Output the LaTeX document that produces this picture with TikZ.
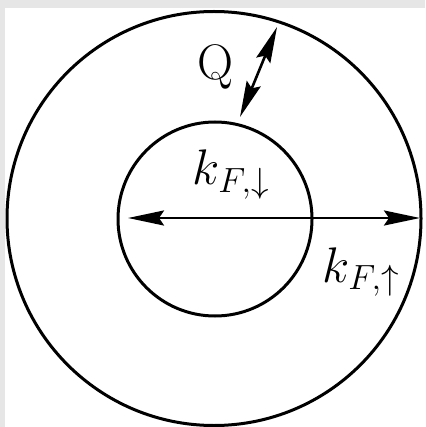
\RequirePackage{fix-cm}
\documentclass[tikz,border=0pt]{standalone}
\usetikzlibrary{arrows.meta}
\definecolor{framegray}{HTML}{E6E6E6}
\begin{document}
\begin{tikzpicture}[x=1pt,y=-1pt,
  ring/.style={draw=black, line width=3pt, circle, inner sep=0pt},
  dblarrow/.style={line width=2.6pt, {Stealth[length=36pt,width=15pt,inset=5pt]}-{Stealth[length=36pt,width=15pt,inset=5pt]}},
  lbl/.style={font=\fontsize{50}{60}\selectfont, inner sep=0pt}]
\useasboundingbox (0,0) rectangle (425,427);
\fill[framegray] (0,0) rectangle (425,427);
\fill[white] (5,8) rectangle (425,427);
\node[ring, minimum size=414pt] (outer) at (214,218.5) {};
\node[ring, minimum size=194pt] (inner) at (215,219) {};
\coordinate (lt) at (128,218);
\coordinate (rt) at (420,218);
\coordinate (qa) at (240,117);
\coordinate (qb) at (277,27);
\draw[dblarrow] (lt) -- (rt);
\draw[dblarrow] (qa) -- (qb);
\node[lbl, anchor=base] (q) at (215,80) {Q};
\node[lbl, anchor=base] (kd) at (231,185) {$k_{F,\downarrow}$};
\node[lbl, anchor=base] (ku) at (361,282) {$k_{F,\uparrow}$};
\end{tikzpicture}
\end{document}
